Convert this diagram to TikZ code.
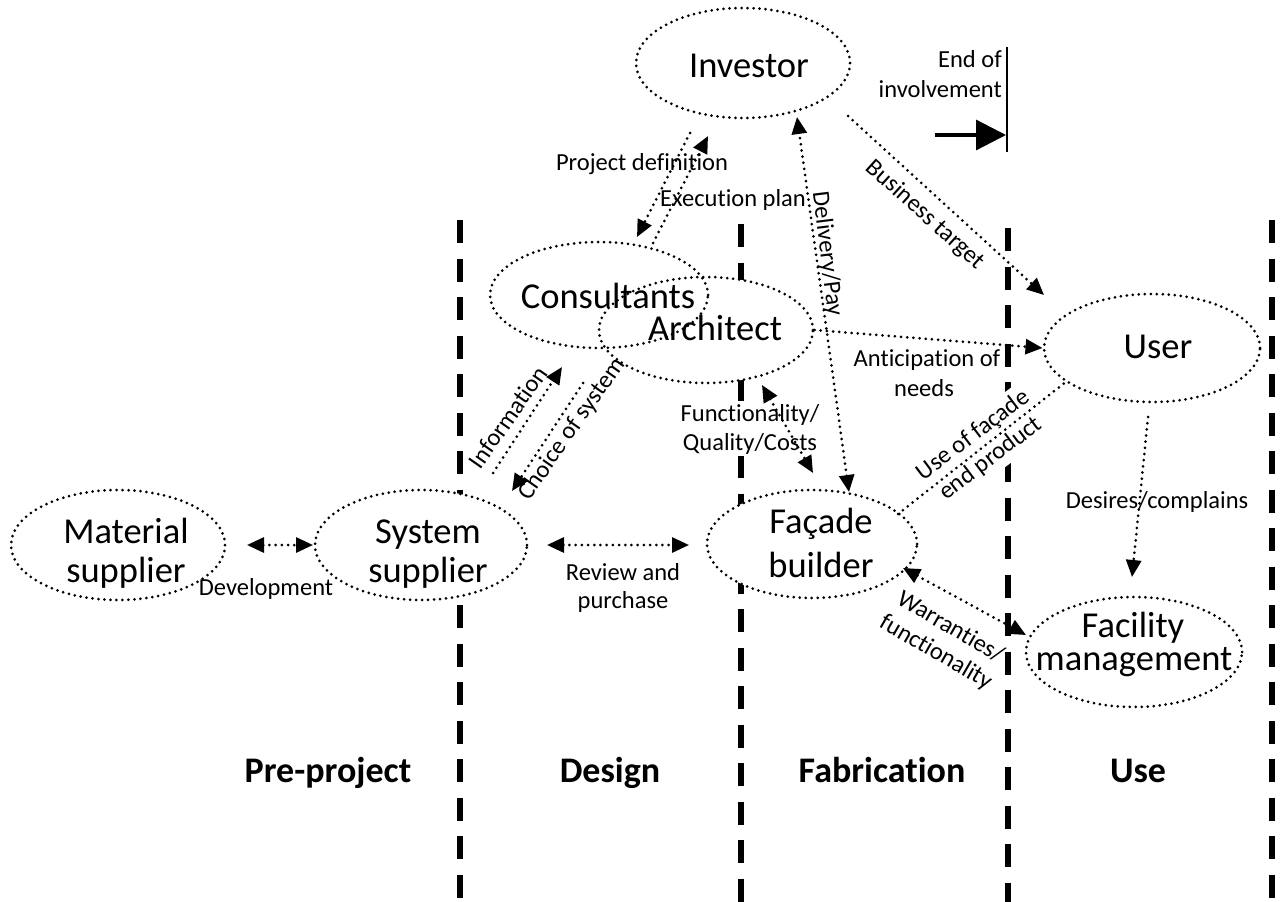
\documentclass[tikz,border=0pt]{standalone}
\usepackage{fontspec}
\setmainfont[Ligatures={NoCommon}]{Carlito}
\usetikzlibrary{arrows.meta,shapes.geometric}
\begin{document}
\begin{tikzpicture}[x=1pt,y=-1pt,
  dotline/.style={line width=3pt, dash pattern=on 0pt off 6.2pt, line cap=round},
  conn/.style={dotline, -{Triangle[length=17pt,width=15pt]}},
  conntwo/.style={dotline, {Triangle[length=17pt,width=15pt]}-{Triangle[length=17pt,width=15pt]}},
  ell/.style={ellipse, draw, line width=3pt, dash pattern=on 0pt off 6pt, line cap=round, inner sep=0pt},
  phaseline/.style={line width=6pt, dash pattern=on 23pt off 15.5pt},
  bigtxt/.style={font=\fontsize{36.5}{44}\selectfont, inner sep=0pt, anchor=base},
  lbl/.style={font=\fontsize{24.5}{29}\selectfont, inner sep=0pt},
  phase/.style={font=\fontsize{36}{44}\selectfont\bfseries, inner sep=0pt, anchor=base},
]
\useasboundingbox (0,0) rectangle (1280,902);

% phase separators
\draw[phaseline] (460,220) -- (460,902);
\draw[phaseline] (741,224) -- (741,902);
\draw[phaseline] (1008,228) -- (1008,902);
\draw[phaseline] (1272,220) -- (1272,902);

% white fills of ellipses
\foreach \cx/\cy/\rx/\ry in {743/63/107/55, 599/295/109/53, 706/330/107/53, 1152/348/108/54, 118/545/107/55, 421/545/106/55, 812/544/105/54, 1134/652/108/55}
  \fill[white] (\cx,\cy) ellipse [x radius=\rx pt, y radius=\ry pt];

% labels with white background
\node[lbl, fill=white, align=center, inner sep=2pt] (lfunc) at (750,429) {Functionality/\\Quality/Costs};
\node[lbl, fill=white, align=center, rotate=37, inner sep=5pt] (luse) at (982,447) {Use of façade\\end product};

% ellipses
\node[ell, minimum width=214pt, minimum height=110pt] (inv) at (743,63) {};
\node[ell, minimum width=218pt, minimum height=106pt] (cons) at (599,295) {};
\node[ell, minimum width=214pt, minimum height=106pt] (arch) at (706,330) {};
\node[ell, minimum width=216pt, minimum height=108pt] (user) at (1152,348) {};
\node[ell, minimum width=214pt, minimum height=110pt] (mat) at (118,545) {};
\node[ell, minimum width=212pt, minimum height=110pt] (sys) at (421,545) {};
\node[ell, minimum width=210pt, minimum height=108pt] (fac) at (812,544) {};
\node[ell, minimum width=216pt, minimum height=110pt] (fm) at (1134,652) {};

% ellipse texts
\node[bigtxt] (inv-t) at (749,77) {Investor};
\node[bigtxt] (cons-t) at (608,308) {Consultants};
\node[bigtxt] (arch-t) at (715,340) {Architect};
\node[bigtxt] (user-t) at (1158,358) {User};
\node[bigtxt] (mat-t1) at (126,543) {Material};
\node[bigtxt] (mat-t2) at (126,582) {supplier};
\node[bigtxt] (sys-t1) at (428,543) {System};
\node[bigtxt] (sys-t2) at (428,582) {supplier};
\node[bigtxt] (fac-t1) at (821,533) {Façade};
\node[bigtxt] (fac-t2) at (821,577) {builder};
\node[bigtxt] (fm-t1) at (1133,637) {Facility};
\node[bigtxt] (fm-t2) at (1134,670) {management};

% connector labels
\node[lbl, anchor=base] (lpd) at (642,170) {Project definition};
\node[lbl, anchor=base] (lep) at (733,206) {Execution plan};
\node[lbl, rotate=-83] (ldp) at (827,254) {Delivery/Pay};
\node[lbl, rotate=-42] (lbt) at (925,215) {Business target};
\node[lbl, anchor=base] (lan1) at (927,366) {Anticipation of};
\node[lbl, anchor=base] (lan2) at (924,396) {needs};
\node[lbl, rotate=55] (linf) at (508,417) {Information};
\node[lbl, rotate=55] (lcs) at (572,429) {Choice of system};
\node[lbl, anchor=base] (ldc) at (1157,508) {Desires/complains};
\node[lbl, rotate=-30, align=center] (lwf) at (943,640) {Warranties/\\functionality};
\node[lbl, anchor=base] (ldev) at (266,595) {Development};
\node[lbl, anchor=base] (lrp1) at (623,580) {Review and};
\node[lbl, anchor=base] (lrp2) at (623,608) {purchase};

% connector end points
\coordinate (pdS) at (690,133); \coordinate (pdE) at (637,237);
\coordinate (epS) at (653,243); \coordinate (epE) at (708,136);
\coordinate (dpA) at (797,117); \coordinate (dpB) at (849,492);
\coordinate (btS) at (848,116); \coordinate (btE) at (1044,295);
\coordinate (usS) at (898,514); \coordinate (usE) at (1067,381);
\coordinate (infS) at (493,473); \coordinate (infE) at (562,367);
\coordinate (csS) at (583,383); \coordinate (csE) at (512,491);
\coordinate (fqA) at (762,385); \coordinate (fqB) at (813,473);
\coordinate (dcS) at (1148,417); \coordinate (dcE) at (1132,577);
\coordinate (wfA) at (903,568); \coordinate (wfB) at (1026,635);
\coordinate (devA) at (247,545); \coordinate (devB) at (313,545);
\coordinate (rpA) at (547,545); \coordinate (rpB) at (689,545);

% connectors
\draw[conn] (pdS) -- (pdE);
\draw[conn] (epS) -- (epE);
\draw[conntwo] (dpB) -- (dpA);
\draw[conn] (btS) -- (btE);
\draw[conn] (arch.east) -- (user.west);
\draw[dotline] (usS) -- (usE);
\draw[conn] (infS) -- (infE);
\draw[conn] (csS) -- (csE);
\draw[conntwo] (fqA) -- (fqB);
\draw[conn] (dcS) -- (dcE);
\draw[conntwo] (wfA) -- (wfB);
\draw[conntwo] (devA) -- (devB);
\draw[conntwo] (rpA) -- (rpB);

% end of involvement
\coordinate (eoiT) at (1007,47); \coordinate (eoiB) at (1007,152);
\coordinate (eoiS) at (935,135); \coordinate (eoiE) at (1006,135);
\draw[line width=2.6pt] (eoiT) -- (eoiB);
\draw[line width=3.2pt, -{Triangle[length=30pt,width=30pt]}] (eoiS) -- (eoiE);
\node[lbl, anchor=base east] (leoi1) at (1002,67) {End of};
\node[lbl, anchor=base east] (leoi2) at (1002,97) {involvement};

% phase labels
\node[phase] (ph1) at (328,782) {Pre-project};
\node[phase] (ph2) at (610,782) {Design};
\node[phase] (ph3) at (882,782) {Fabrication};
\node[phase] (ph4) at (1138,782) {Use};
\end{tikzpicture}
\end{document}
